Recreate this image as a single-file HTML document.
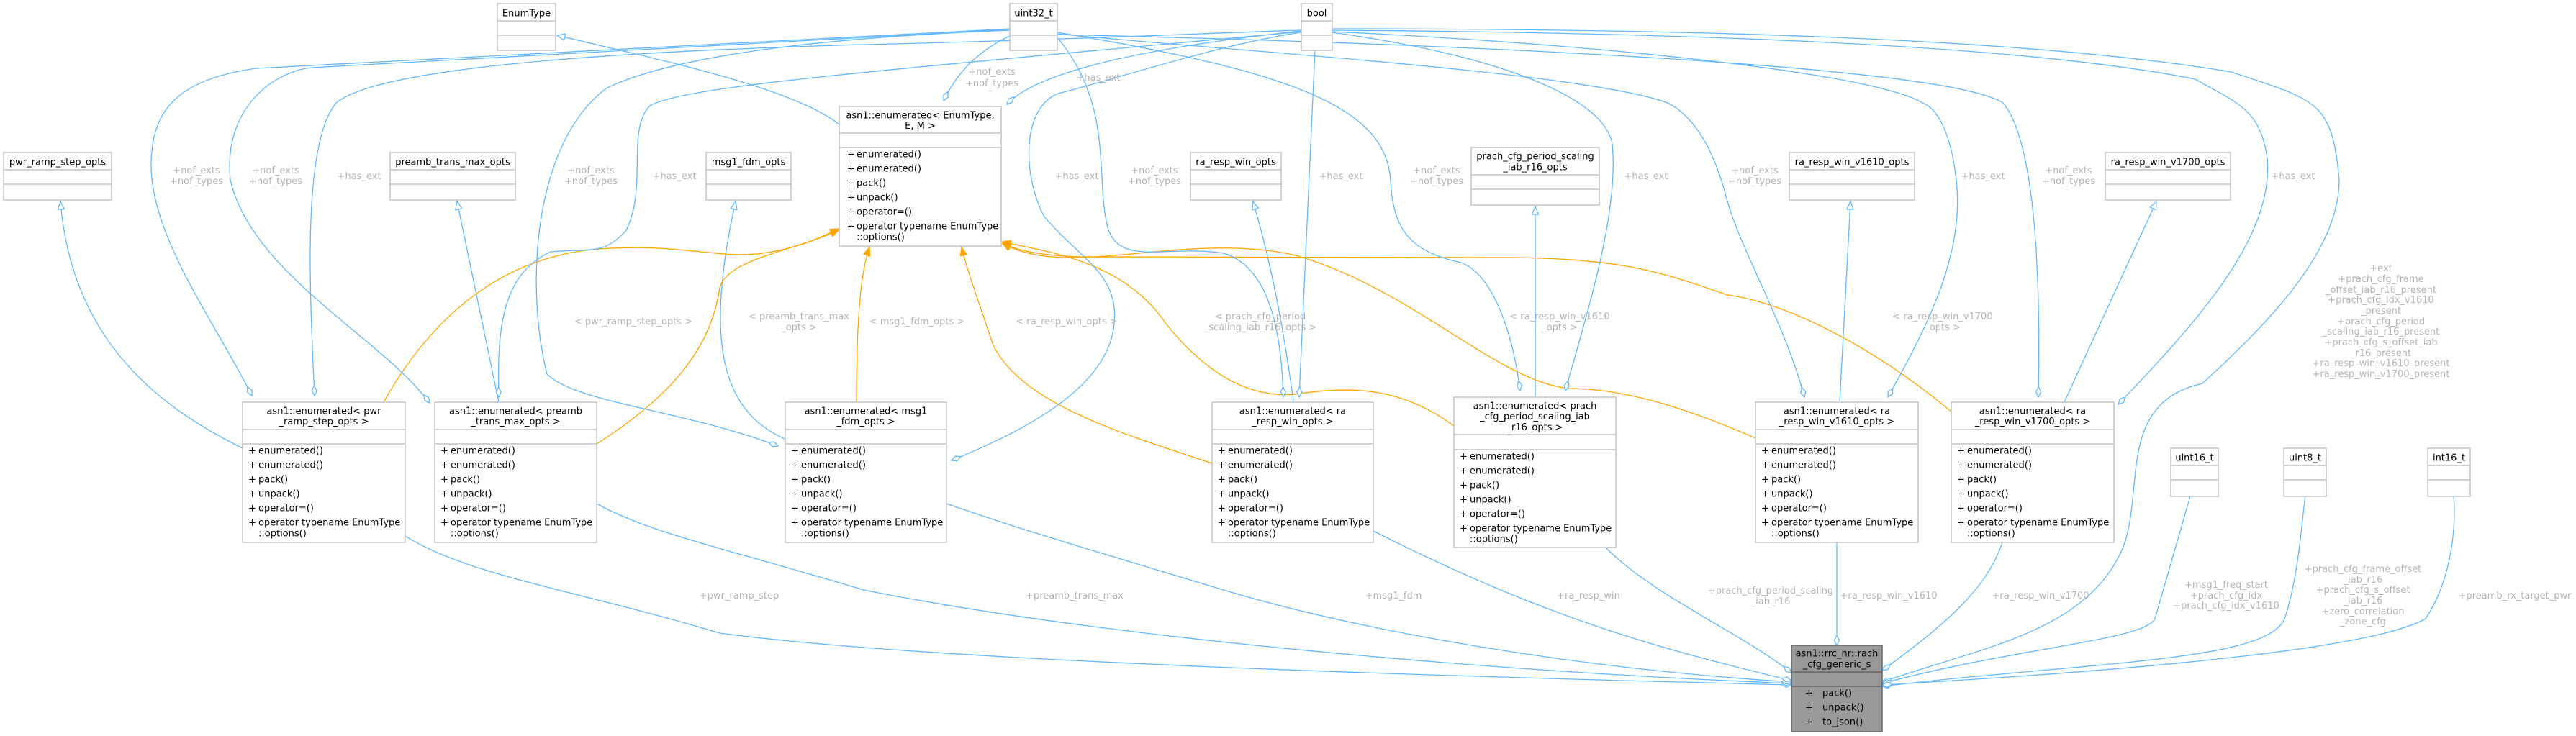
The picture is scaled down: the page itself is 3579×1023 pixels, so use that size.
<!DOCTYPE html>
<html><head><meta charset="utf-8"><style>
html,body{margin:0;padding:0;background:#fff;}
svg{display:block;}
text{font-family:"DejaVu Sans","Liberation Sans",sans-serif;font-size:13px;}
.bx{fill:#fff;stroke:#c4c4c4;stroke-width:1.5;}
.ln{stroke:#c4c4c4;stroke-width:1.5;}
.t{fill:#000;}
.lb{fill:#b4b4b4;text-anchor:middle;}
.e{fill:none;stroke:#63b8ff;stroke-width:1.3;}
.o{fill:none;stroke:#ffa500;stroke-width:1.3;}
</style></head><body>
<svg width="3579" height="1023" viewBox="0 0 3579 1023" xmlns="http://www.w3.org/2000/svg">
<defs>
<marker id="tri" viewBox="-1 -6 13 12" refX="11" refY="0" markerWidth="13" markerHeight="12" markerUnits="userSpaceOnUse" orient="auto"><path d="M0,-4.5 L11,0 L0,4.5 Z" fill="#fff" stroke="#63b8ff" stroke-width="1.3"/></marker>
<marker id="otri" viewBox="-1 -6 13 12" refX="11" refY="0" markerWidth="13" markerHeight="12" markerUnits="userSpaceOnUse" orient="auto"><path d="M0,-4.5 L11,0 L0,4.5 Z" fill="#ffa500" stroke="#ffa500" stroke-width="1.3"/></marker>
<marker id="dia" viewBox="-1 -5 16 10" refX="0" refY="0" markerWidth="16" markerHeight="10" markerUnits="userSpaceOnUse" orient="auto"><path d="M0,0 L7,-3.5 L14,0 L7,3.5 Z" fill="#fff" stroke="#63b8ff" stroke-width="1.3"/></marker>
</defs>

<!-- inheritance edges -->
<path class="e" marker-end="url(#tri)" d="M1166,173 C1100,120 900,80 774,49"/>
<path class="e" marker-end="url(#tri)" d="M337,623 C230,570 100,480 84,280"/>
<path class="e" marker-end="url(#tri)" d="M693,559 L635,280"/>
<path class="e" marker-end="url(#tri)" d="M1090,610 C1000,570 980,470 1022,280"/>
<path class="e" marker-end="url(#tri)" d="M1797,557 C1785,470 1770,380 1741,280"/>
<path class="e" marker-end="url(#tri)" d="M2133,552 L2133,287"/>
<path class="e" marker-end="url(#tri)" d="M2556,559 L2571,280"/>
<path class="e" marker-end="url(#tri)" d="M2868,559 L2996,280"/>

<!-- template instantiation edges -->
<path class="o" marker-end="url(#otri)" d="M533,559 C600,440 700,350 850,345 C950,340 1000,360 1060,352 C1110,345 1140,330 1165,318"/>
<path class="o" marker-end="url(#otri)" d="M829,617 C950,540 990,470 1000,400 C1010,360 1100,350 1165,320"/>
<path class="o" marker-end="url(#otri)" d="M1190,559 C1190,450 1195,380 1208,344"/>
<path class="o" marker-end="url(#otri)" d="M1684,644 C1550,600 1420,560 1380,480 C1360,420 1345,380 1336,344"/>
<path class="o" marker-end="url(#otri)" d="M2020,592 C1950,540 1880,535 1800,548 C1720,555 1660,500 1620,450 C1560,360 1450,350 1393,336"/>
<path class="o" marker-end="url(#otri)" d="M2439,609 C2350,570 2260,540 2180,540 C2080,530 1960,400 1800,355 C1650,320 1480,390 1393,338"/>
<path class="o" marker-end="url(#otri)" d="M2711,572 C2600,480 2480,420 2400,410 C2300,375 2250,360 2100,358 L1500,357 C1450,355 1420,350 1393,339"/>

<!-- member edges uint32_t / bool -->
<path class="e" marker-start="url(#dia)" d="M1311,140 C1330,100 1360,70 1403,50"/>
<path class="e" marker-start="url(#dia)" d="M1399,145 C1450,90 1650,60 1808,43"/>
<path class="e" marker-start="url(#dia)" d="M350,550 C300,450 210,330 210,230 C210,150 250,110 356,95 L1403,40"/>
<path class="e" marker-start="url(#dia)" d="M597,560 C530,470 350,380 320,250 C310,150 380,100 432,94 L1403,41"/>
<path class="e" marker-start="url(#dia)" d="M437,550 C430,400 420,200 467,143 C530,90 900,70 1200,62 C1500,55 1700,45 1808,42"/>
<path class="e" marker-start="url(#dia)" d="M1081,620 C950,570 800,560 760,520 C730,400 740,200 842,123 C950,70 1200,50 1403,42"/>
<path class="e" marker-start="url(#dia)" d="M693,552 C690,450 700,380 765,350 C820,345 840,355 870,320 C900,260 870,180 903,147 C950,120 1200,100 1808,44"/>
<path class="e" marker-start="url(#dia)" d="M1322,640 C1420,600 1540,540 1548,450 C1555,380 1500,360 1450,300 C1420,240 1420,150 1470,130 C1550,110 1700,60 1808,45"/>
<path class="e" marker-start="url(#dia)" d="M1783,552 C1780,450 1760,370 1700,352 C1620,340 1560,370 1540,320 C1520,250 1550,150 1469,52"/>
<path class="e" marker-start="url(#dia)" d="M1805,552 L1827,70"/>
<path class="e" marker-start="url(#dia)" d="M2112,543 C2100,450 2070,380 2030,365 C1960,350 1935,320 1932,250 C1925,150 1800,100 1469,45"/>
<path class="e" marker-start="url(#dia)" d="M2175,543 C2200,450 2250,300 2240,200 C2230,140 2100,80 1851,45"/>
<path class="e" marker-start="url(#dia)" d="M2507,552 C2480,450 2420,350 2400,280 C2380,200 2350,160 2317,143 C2200,100 1700,70 1469,47"/>
<path class="e" marker-start="url(#dia)" d="M2623,552 C2680,450 2730,350 2718,250 C2710,180 2690,150 2671,143 C2600,100 2200,60 1851,44"/>
<path class="e" marker-start="url(#dia)" d="M2832,552 C2835,400 2830,200 2783,143 C2700,90 2000,60 1469,48"/>
<path class="e" marker-start="url(#dia)" d="M2943,562 C3050,450 3160,330 3150,220 C3140,150 3107,143 3050,110 C2800,60 2300,45 1851,42"/>
<path class="e" marker-start="url(#dia)" d="M2615,948 C2750,900 2900,880 2950,760 C2980,680 2940,560 3060,533 C3150,450 3250,350 3250,250 C3240,140 3220,140 3100,100 C2800,50 2300,40 1851,40"/>

<!-- member edges to main node -->
<path class="e" marker-start="url(#dia)" d="M2489,952 C2000,940 1300,920 1000,880 C800,820 650,800 563,745"/>
<path class="e" marker-start="url(#dia)" d="M2489,950 C2000,930 1500,880 1200,820 C1000,760 900,740 829,700"/>
<path class="e" marker-start="url(#dia)" d="M2489,948 C2200,930 1900,880 1700,820 C1500,760 1400,730 1315,700"/>
<path class="e" marker-start="url(#dia)" d="M2489,946 C2300,900 2150,860 1908,738"/>
<path class="e" marker-start="url(#dia)" d="M2489,935 C2420,880 2300,830 2232,762"/>
<path class="e" marker-start="url(#dia)" d="M2552,897 L2552,754"/>
<path class="e" marker-start="url(#dia)" d="M2615,932 C2700,870 2760,820 2782,754"/>
<path class="e" marker-start="url(#dia)" d="M2615,950 C2800,900 2980,890 2994,860 L3043,690"/>
<path class="e" marker-start="url(#dia)" d="M2615,954 C2900,920 3150,920 3174,860 C3195,800 3200,700 3203,690"/>
<path class="e" marker-start="url(#dia)" d="M2615,952 C3000,930 3300,900 3370,860 C3410,800 3412,720 3409,690"/>

<!-- small class boxes -->
<g>
<rect class="bx" x="691" y="5" width="81" height="65"/><line class="ln" x1="691" y1="29" x2="772" y2="29"/><line class="ln" x1="691" y1="49" x2="772" y2="49"/><text class="t" x="731.5" y="22.5" text-anchor="middle">EnumType</text>
<rect class="bx" x="1403" y="5" width="66" height="65"/><line class="ln" x1="1403" y1="29" x2="1469" y2="29"/><line class="ln" x1="1403" y1="49" x2="1469" y2="49"/><text class="t" x="1436" y="22.5" text-anchor="middle">uint32_t</text>
<rect class="bx" x="1808" y="5" width="43" height="65"/><line class="ln" x1="1808" y1="29" x2="1851" y2="29"/><line class="ln" x1="1808" y1="49" x2="1851" y2="49"/><text class="t" x="1829.5" y="22.5" text-anchor="middle">bool</text>

<rect class="bx" x="5" y="212" width="150" height="66"/><line class="ln" x1="5" y1="236" x2="155" y2="236"/><line class="ln" x1="5" y1="256" x2="155" y2="256"/><text class="t" x="80" y="229.5" text-anchor="middle">pwr_ramp_step_opts</text>
<rect class="bx" x="542" y="212" width="174" height="66"/><line class="ln" x1="542" y1="236" x2="716" y2="236"/><line class="ln" x1="542" y1="256" x2="716" y2="256"/><text class="t" x="629" y="229.5" text-anchor="middle">preamb_trans_max_opts</text>
<rect class="bx" x="981" y="212" width="118" height="66"/><line class="ln" x1="981" y1="236" x2="1099" y2="236"/><line class="ln" x1="981" y1="256" x2="1099" y2="256"/><text class="t" x="1040" y="229.5" text-anchor="middle">msg1_fdm_opts</text>
<rect class="bx" x="1654" y="212" width="126" height="66"/><line class="ln" x1="1654" y1="236" x2="1780" y2="236"/><line class="ln" x1="1654" y1="256" x2="1780" y2="256"/><text class="t" x="1717" y="229.5" text-anchor="middle">ra_resp_win_opts</text>
<rect class="bx" x="2044" y="205" width="178" height="80"/><line class="ln" x1="2044" y1="243" x2="2222" y2="243"/><line class="ln" x1="2044" y1="263" x2="2222" y2="263"/><text class="t" x="2133" y="221.5" text-anchor="middle">prach_cfg_period_scaling</text><text class="t" x="2133" y="236.5" text-anchor="middle">_iab_r16_opts</text>
<rect class="bx" x="2486" y="212" width="174" height="66"/><line class="ln" x1="2486" y1="236" x2="2660" y2="236"/><line class="ln" x1="2486" y1="256" x2="2660" y2="256"/><text class="t" x="2573" y="229.5" text-anchor="middle">ra_resp_win_v1610_opts</text>
<rect class="bx" x="2925" y="212" width="174" height="66"/><line class="ln" x1="2925" y1="236" x2="3099" y2="236"/><line class="ln" x1="2925" y1="256" x2="3099" y2="256"/><text class="t" x="3012" y="229.5" text-anchor="middle">ra_resp_win_v1700_opts</text>

<rect class="bx" x="3016" y="623" width="66" height="67"/><line class="ln" x1="3016" y1="647" x2="3082" y2="647"/><line class="ln" x1="3016" y1="667" x2="3082" y2="667"/><text class="t" x="3049" y="640.5" text-anchor="middle">uint16_t</text>
<rect class="bx" x="3173" y="623" width="59" height="67"/><line class="ln" x1="3173" y1="647" x2="3232" y2="647"/><line class="ln" x1="3173" y1="667" x2="3232" y2="667"/><text class="t" x="3202.5" y="640.5" text-anchor="middle">uint8_t</text>
<rect class="bx" x="3373" y="623" width="59" height="67"/><line class="ln" x1="3373" y1="647" x2="3432" y2="647"/><line class="ln" x1="3373" y1="667" x2="3432" y2="667"/><text class="t" x="3402.5" y="640.5" text-anchor="middle">int16_t</text>
</g>

<!-- template box -->
<g>
<rect class="bx" x="1166" y="148" width="225" height="194"/><line class="ln" x1="1166" y1="185" x2="1391" y2="185"/><line class="ln" x1="1166" y1="205" x2="1391" y2="205"/>
<text class="t" x="1278.5" y="164.5" text-anchor="middle">asn1::enumerated&lt; EnumType,</text>
<text class="t" x="1278.5" y="179" text-anchor="middle">E, M &gt;</text>
<g class="t"><text x="1177" y="218.5">+</text><text x="1190" y="218.5">enumerated()</text>
<text x="1177" y="238.5">+</text><text x="1190" y="238.5">enumerated()</text>
<text x="1177" y="258.5">+</text><text x="1190" y="258.5">pack()</text>
<text x="1177" y="278.5">+</text><text x="1190" y="278.5">unpack()</text>
<text x="1177" y="298.5">+</text><text x="1190" y="298.5">operator=()</text>
<text x="1177" y="318.5">+</text><text x="1190" y="318.5">operator typename EnumType</text>
<text x="1190" y="333.5">::options()</text></g>
</g>

<!-- enum instantiation boxes (generated inline) -->
<g id="enums"></g>
<script>
(function(){
var NS="http://www.w3.org/2000/svg",g=document.getElementById("enums");
function el(n,a,t){var e=document.createElementNS(NS,n);for(var k in a)e.setAttribute(k,a[k]);if(t!=null)e.textContent=t;g.appendChild(e);return e;}
var B=[[337,563,["asn1::enumerated< pwr","_ramp_step_opts >"]],[604,829,["asn1::enumerated< preamb","_trans_max_opts >"]],[1091,1315,["asn1::enumerated< msg1","_fdm_opts >"]],[1684,1908,["asn1::enumerated< ra","_resp_win_opts >"]],[2020,2245,["asn1::enumerated< prach","_cfg_period_scaling_iab","_r16_opts >"]],[2439,2665,["asn1::enumerated< ra","_resp_win_v1610_opts >"]],[2711,2937,["asn1::enumerated< ra","_resp_win_v1700_opts >"]]];
var M=["enumerated()","enumerated()","pack()","unpack()","operator=()","operator typename EnumType"];
B.forEach(function(b){
 var x1=b[0],x2=b[1],three=b[2].length==3;
 var y1=three?552:559,d1=three?604:597,d2=three?625:617,y2=three?761:754;
 el("rect",{"class":"bx",x:x1,y:y1,width:x2-x1,height:y2-y1});
 el("line",{"class":"ln",x1:x1,y1:d1,x2:x2,y2:d1});
 el("line",{"class":"ln",x1:x1,y1:d2,x2:x2,y2:d2});
 b[2].forEach(function(s,i){el("text",{"class":"t",x:(x1+x2)/2,y:y1+16.5+i*14.7,"text-anchor":"middle"},s);});
 M.forEach(function(s,i){var y=d2+13.5+i*20;el("text",{"class":"t",x:x1+8,y:y},"+");el("text",{"class":"t",x:x1+22,y:y},s);});
 el("text",{"class":"t",x:x1+22,y:d2+13.5+5*20+15},"::options()");
});
})();
</script>

<!-- main node -->
<g>
<rect x="2489" y="897" width="126" height="120" fill="#999999" stroke="#666666" stroke-width="1.5"/>
<line x1="2489" y1="934" x2="2615" y2="934" stroke="#666" stroke-width="1.5"/>
<line x1="2489" y1="954" x2="2615" y2="954" stroke="#666" stroke-width="1.5"/>
<text class="t" x="2552" y="912.5" text-anchor="middle">asn1::rrc_nr::rach</text>
<text class="t" x="2552" y="927.5" text-anchor="middle">_cfg_generic_s</text>
<text class="t" x="2508" y="967.5">+</text><text class="t" x="2532" y="967.5">pack()</text>
<text class="t" x="2508" y="987.5">+</text><text class="t" x="2532" y="987.5">unpack()</text>
<text class="t" x="2508" y="1007.5">+</text><text class="t" x="2532" y="1007.5">to_json()</text>
</g>

<!-- labels -->
<g class="lb">
<text x="1378" y="104">+nof_exts</text><text x="1378" y="120">+nof_types</text>
<text x="1526" y="112">+has_ext</text>
<text x="273" y="241">+nof_exts</text><text x="273" y="256">+nof_types</text>
<text x="383" y="241">+nof_exts</text><text x="383" y="256">+nof_types</text>
<text x="821" y="241">+nof_exts</text><text x="821" y="256">+nof_types</text>
<text x="1604" y="241">+nof_exts</text><text x="1604" y="256">+nof_types</text>
<text x="1996" y="241">+nof_exts</text><text x="1996" y="256">+nof_types</text>
<text x="2438" y="241">+nof_exts</text><text x="2438" y="256">+nof_types</text>
<text x="2874" y="241">+nof_exts</text><text x="2874" y="256">+nof_types</text>
<text x="499" y="249">+has_ext</text><text x="937" y="249">+has_ext</text><text x="1496" y="249">+has_ext</text><text x="1863" y="249">+has_ext</text><text x="2287" y="249">+has_ext</text><text x="2755" y="249">+has_ext</text><text x="3186" y="249">+has_ext</text>
<text x="880" y="451">&lt; pwr_ramp_step_opts &gt;</text>
<text x="1110" y="444">&lt; preamb_trans_max</text><text x="1110" y="459">_opts &gt;</text>
<text x="1274" y="451">&lt; msg1_fdm_opts &gt;</text>
<text x="1482" y="451">&lt; ra_resp_win_opts &gt;</text>
<text x="1751" y="444">&lt; prach_cfg_period</text><text x="1751" y="459">_scaling_iab_r16_opts &gt;</text>
<text x="2167" y="444">&lt; ra_resp_win_v1610</text><text x="2167" y="459">_opts &gt;</text>
<text x="2699" y="444">&lt; ra_resp_win_v1700</text><text x="2699" y="459">_opts &gt;</text>
<text x="1027" y="832">+pwr_ramp_step</text>
<text x="1493" y="832">+preamb_trans_max</text>
<text x="1936" y="832">+msg1_fdm</text>
<text x="2207" y="832">+ra_resp_win</text>
<text x="2460" y="825">+prach_cfg_period_scaling</text><text x="2460" y="840">_iab_r16</text>
<text x="2624" y="832">+ra_resp_win_v1610</text>
<text x="2835" y="832">+ra_resp_win_v1700</text>
<text x="3093" y="817">+msg1_freq_start</text><text x="3093" y="832">+prach_cfg_idx</text><text x="3093" y="846">+prach_cfg_idx_v1610</text>
<text x="3283" y="795">+prach_cfg_frame_offset</text><text x="3283" y="810">_iab_r16</text><text x="3283" y="824">+prach_cfg_s_offset</text><text x="3283" y="839">_iab_r16</text><text x="3283" y="854">+zero_correlation</text><text x="3283" y="868">_zone_cfg</text>
<text x="3494" y="832">+preamb_rx_target_pwr</text>
<text x="3308" y="377">+ext</text>
<text x="3308" y="392">+prach_cfg_frame</text>
<text x="3308" y="407">_offset_iab_r16_present</text>
<text x="3308" y="421">+prach_cfg_idx_v1610</text>
<text x="3308" y="436">_present</text>
<text x="3308" y="451">+prach_cfg_period</text>
<text x="3308" y="465">_scaling_iab_r16_present</text>
<text x="3308" y="480">+prach_cfg_s_offset_iab</text>
<text x="3308" y="495">_r16_present</text>
<text x="3308" y="509">+ra_resp_win_v1610_present</text>
<text x="3308" y="524">+ra_resp_win_v1700_present</text>
</g>
</svg>
</body></html>
